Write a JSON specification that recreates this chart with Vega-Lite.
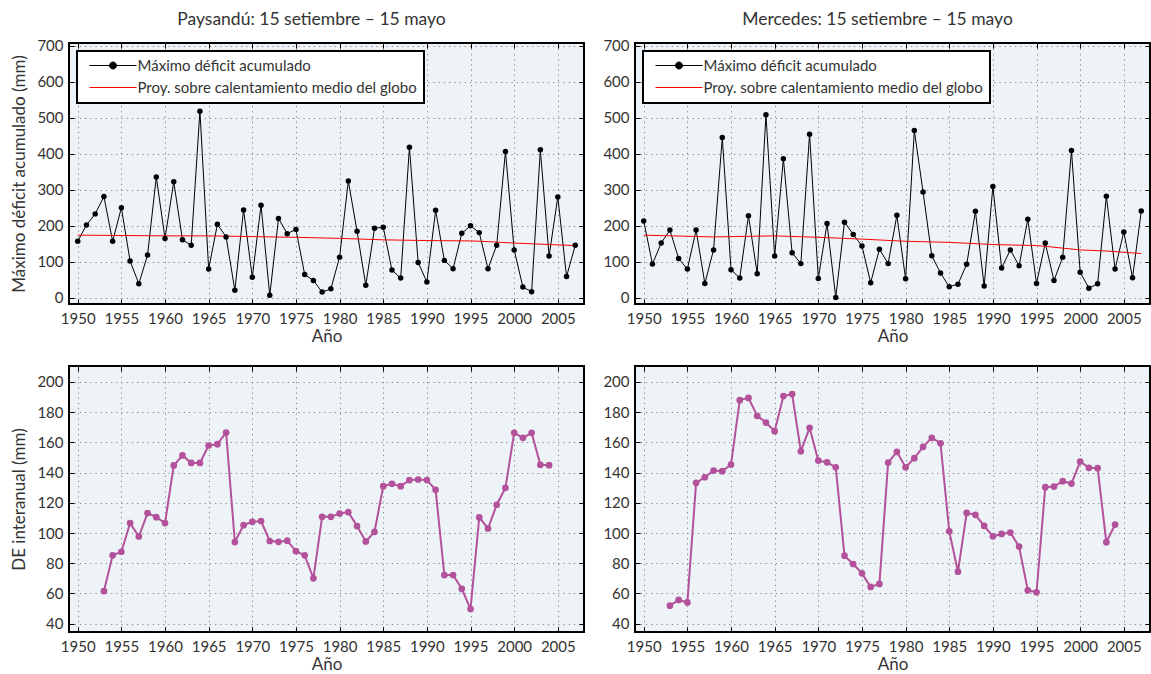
{
  "$schema": "https://vega.github.io/schema/vega-lite/v6.json",
  "padding": {"left": 9, "top": 10, "right": 0, "bottom": 0},
  "bounds": "flush",
  "columns": 2,
  "spacing": {"row": 62, "column": 51},
  "resolve": {"scale": {"color": "independent"}, "legend": {"color": "independent"}},
  "datasets": {
    "payDef": [
      {"a":1950,"v":157},{"a":1951,"v":202},{"a":1952,"v":233},{"a":1953,"v":281},{"a":1954,"v":157},{"a":1955,"v":250},{"a":1956,"v":102},{"a":1957,"v":39},{"a":1958,"v":119},{"a":1959,"v":335},
      {"a":1960,"v":165},{"a":1961,"v":322},{"a":1962,"v":161},{"a":1963,"v":146},{"a":1964,"v":518},{"a":1965,"v":80},{"a":1966,"v":204},{"a":1967,"v":169},{"a":1968,"v":21},{"a":1969,"v":244},
      {"a":1970,"v":57},{"a":1971,"v":257},{"a":1972,"v":7},{"a":1973,"v":220},{"a":1974,"v":178},{"a":1975,"v":190},{"a":1976,"v":65},{"a":1977,"v":48},{"a":1978,"v":16},{"a":1979,"v":25},
      {"a":1980,"v":113},{"a":1981,"v":324},{"a":1982,"v":185},{"a":1983,"v":35},{"a":1984,"v":193},{"a":1985,"v":196},{"a":1986,"v":77},{"a":1987,"v":55},{"a":1988,"v":418},{"a":1989,"v":98},
      {"a":1990,"v":44},{"a":1991,"v":243},{"a":1992,"v":104},{"a":1993,"v":81},{"a":1994,"v":179},{"a":1995,"v":200},{"a":1996,"v":181},{"a":1997,"v":81},{"a":1998,"v":146},{"a":1999,"v":406},
      {"a":2000,"v":133},{"a":2001,"v":30},{"a":2002,"v":17},{"a":2003,"v":411},{"a":2004,"v":116},{"a":2005,"v":280},{"a":2006,"v":59},{"a":2007,"v":146}
    ],
    "payTrend": [
      {"a":1950,"v":174},{"a":1960,"v":172},{"a":1965,"v":172},{"a":1970,"v":170},{"a":1975,"v":168},{"a":1980,"v":165},{"a":1985,"v":161},{"a":1990,"v":159},{"a":1995,"v":158},{"a":1997,"v":156},{"a":2000,"v":152},{"a":2007,"v":145}
    ],
    "merDef": [
      {"a":1950,"v":213},{"a":1951,"v":94},{"a":1952,"v":152},{"a":1953,"v":188},{"a":1954,"v":109},{"a":1955,"v":80},{"a":1956,"v":188},{"a":1957,"v":40},{"a":1958,"v":133},{"a":1959,"v":445},
      {"a":1960,"v":78},{"a":1961,"v":55},{"a":1962,"v":228},{"a":1963,"v":67},{"a":1964,"v":508},{"a":1965,"v":116},{"a":1966,"v":386},{"a":1967,"v":125},{"a":1968,"v":95},{"a":1969,"v":454},
      {"a":1970,"v":54},{"a":1971,"v":206},{"a":1972,"v":1},{"a":1973,"v":210},{"a":1974,"v":176},{"a":1975,"v":144},{"a":1976,"v":42},{"a":1977,"v":135},{"a":1978,"v":95},{"a":1979,"v":229},
      {"a":1980,"v":53},{"a":1981,"v":464},{"a":1982,"v":294},{"a":1983,"v":117},{"a":1984,"v":69},{"a":1985,"v":31},{"a":1986,"v":38},{"a":1987,"v":93},{"a":1988,"v":240},{"a":1989,"v":33},
      {"a":1990,"v":309},{"a":1991,"v":83},{"a":1992,"v":133},{"a":1993,"v":89},{"a":1994,"v":218},{"a":1995,"v":40},{"a":1996,"v":152},{"a":1997,"v":48},{"a":1998,"v":113},{"a":1999,"v":409},
      {"a":2000,"v":71},{"a":2001,"v":27},{"a":2002,"v":39},{"a":2003,"v":282},{"a":2004,"v":80},{"a":2005,"v":183},{"a":2006,"v":56},{"a":2007,"v":241}
    ],
    "merTrend": [
      {"a":1950,"v":174},{"a":1958,"v":169},{"a":1965,"v":172},{"a":1970,"v":168},{"a":1975,"v":163},{"a":1980,"v":157},{"a":1985,"v":154},{"a":1990,"v":148},{"a":1995,"v":145},{"a":1996,"v":143},{"a":2000,"v":133},{"a":2003,"v":130},{"a":2007,"v":123}
    ],
    "payDE": [
      {"a":1953,"v":61.6},{"a":1954,"v":85.2},{"a":1955,"v":87.6},{"a":1956,"v":106.6},{"a":1957,"v":97.7},{"a":1958,"v":113.2},{"a":1959,"v":110.5},
      {"a":1960,"v":106.6},{"a":1961,"v":144.7},{"a":1962,"v":151.3},{"a":1963,"v":146.4},{"a":1964,"v":146.4},{"a":1965,"v":157.9},{"a":1966,"v":158.8},{"a":1967,"v":166.5},{"a":1968,"v":94.0},{"a":1969,"v":105.2},
      {"a":1970,"v":107.4},{"a":1971,"v":107.9},{"a":1972,"v":94.7},{"a":1973,"v":94.2},{"a":1974,"v":94.9},{"a":1975,"v":88.0},{"a":1976,"v":85.2},{"a":1977,"v":70.0},{"a":1978,"v":110.7},{"a":1979,"v":110.7},
      {"a":1980,"v":112.9},{"a":1981,"v":113.8},{"a":1982,"v":104.6},{"a":1983,"v":94.4},{"a":1984,"v":100.8},{"a":1985,"v":131.0},{"a":1986,"v":132.6},{"a":1987,"v":131.0},{"a":1988,"v":135.0},{"a":1989,"v":135.4},
      {"a":1990,"v":135.0},{"a":1991,"v":128.6},{"a":1992,"v":72.2},{"a":1993,"v":72.2},{"a":1994,"v":63.1},{"a":1995,"v":49.7},{"a":1996,"v":110.3},{"a":1997,"v":103.0},{"a":1998,"v":118.7},{"a":1999,"v":129.9},
      {"a":2000,"v":166.3},{"a":2001,"v":163.0},{"a":2002,"v":166.3},{"a":2003,"v":145.1},{"a":2004,"v":144.9}
    ],
    "merDE": [
      {"a":1953,"v":51.9},{"a":1954,"v":55.7},{"a":1955,"v":54.1},{"a":1956,"v":133.2},{"a":1957,"v":136.9},{"a":1958,"v":141.3},{"a":1959,"v":140.9},
      {"a":1960,"v":145.3},{"a":1961,"v":187.9},{"a":1962,"v":189.4},{"a":1963,"v":177.5},{"a":1964,"v":173.1},{"a":1965,"v":167.4},{"a":1966,"v":190.6},{"a":1967,"v":191.9},{"a":1968,"v":154.1},{"a":1969,"v":169.6},
      {"a":1970,"v":147.9},{"a":1971,"v":146.8},{"a":1972,"v":143.5},{"a":1973,"v":85.0},{"a":1974,"v":79.5},{"a":1975,"v":73.3},{"a":1976,"v":64.3},{"a":1977,"v":66.3},{"a":1978,"v":146.6},{"a":1979,"v":153.7},
      {"a":1980,"v":143.5},{"a":1981,"v":149.5},{"a":1982,"v":157.0},{"a":1983,"v":163.0},{"a":1984,"v":159.4},{"a":1985,"v":101.1},{"a":1986,"v":74.4},{"a":1987,"v":113.3},{"a":1988,"v":112.0},{"a":1989,"v":104.7},
      {"a":1990,"v":97.8},{"a":1991,"v":99.4},{"a":1992,"v":100.3},{"a":1993,"v":91.0},{"a":1994,"v":62.1},{"a":1995,"v":60.8},{"a":1996,"v":130.3},{"a":1997,"v":130.7},{"a":1998,"v":134.3},{"a":1999,"v":132.7},
      {"a":2000,"v":147.3},{"a":2001,"v":143.1},{"a":2002,"v":142.9},{"a":2003,"v":93.9},{"a":2004,"v":105.6}
    ]
  },
  "concat": [
    {
      "width": 515, "height": 261,
      "title": {"text": "Paysandú: 15 setiembre – 15 mayo"},
      "layer": [
        {"data": {"name": "payDef"}, "mark": {"type": "line", "strokeWidth": 1},
         "encoding": {
           "x": {"field": "a", "type": "quantitative", "scale": {"domain": [1949, 2008], "nice": false, "zero": false}, "axis": {"values": [1950,1955,1960,1965,1970,1975,1980,1985,1990,1995,2000,2005], "format": "d", "title": "Año", "grid": true}},
           "y": {"field": "v", "type": "quantitative", "scale": {"domain": [-17, 707], "nice": false}, "axis": {"values": [0,100,200,300,400,500,600,700], "title": "Máximo déficit acumulado (mm)", "grid": true}},
           "color": {"datum": "Máximo déficit acumulado", "scale": {"domain": ["Máximo déficit acumulado", "Proy. sobre calentamiento medio del globo"], "range": ["black", "#ff0000"]},
             "legend": {"title": null, "orient": "top-left", "offset": 8,
               "encode": {"legend": {"update": {"strokeWidth": {"value": 2}}},
                 "symbols": {"update": {"shape": {"signal": "datum.value === 'Máximo déficit acumulado' ? 'M-4.7,0H4.7M-0.7,0A0.7,0.7,0,1,1,0.7,0A0.7,0.7,0,1,1,-0.7,0Z' : 'M-4.7,0H4.7'"}, "fill": {"signal": "datum.value === 'Máximo déficit acumulado' ? 'black' : 'transparent'"}}}}}}
         }},
        {"data": {"name": "payTrend"}, "mark": {"type": "line", "strokeWidth": 1},
         "encoding": {
           "x": {"field": "a", "type": "quantitative", "axis": {"orient": "top", "values": [1950,1955,1960,1965,1970,1975,1980,1985,1990,1995,2000,2005], "labels": false, "title": null, "grid": false}},
           "y": {"field": "v", "type": "quantitative", "axis": {"orient": "right", "values": [0,100,200,300,400,500,600,700], "labels": false, "title": null, "grid": false}},
           "color": {"datum": "Proy. sobre calentamiento medio del globo"}
         }},
        {"data": {"name": "payDef"}, "mark": {"type": "point", "filled": true, "size": 30, "color": "black", "opacity": 1},
         "encoding": {
           "x": {"field": "a", "type": "quantitative", "axis": null},
           "y": {"field": "v", "type": "quantitative", "axis": null}
         }}
      ],
      "resolve": {"axis": {"x": "independent", "y": "independent"}}
    },
    {
      "width": 515, "height": 261,
      "title": {"text": "Mercedes: 15 setiembre – 15 mayo"},
      "layer": [
        {"data": {"name": "merDef"}, "mark": {"type": "line", "strokeWidth": 1},
         "encoding": {
           "x": {"field": "a", "type": "quantitative", "scale": {"domain": [1949, 2008], "nice": false, "zero": false}, "axis": {"values": [1950,1955,1960,1965,1970,1975,1980,1985,1990,1995,2000,2005], "format": "d", "title": "Año", "grid": true}},
           "y": {"field": "v", "type": "quantitative", "scale": {"domain": [-17, 707], "nice": false}, "axis": {"values": [0,100,200,300,400,500,600,700], "title": null, "grid": true}},
           "color": {"datum": "Máximo déficit acumulado", "scale": {"domain": ["Máximo déficit acumulado", "Proy. sobre calentamiento medio del globo"], "range": ["black", "#ff0000"]},
             "legend": {"title": null, "orient": "top-left", "offset": 8,
               "encode": {"legend": {"update": {"strokeWidth": {"value": 2}}},
                 "symbols": {"update": {"shape": {"signal": "datum.value === 'Máximo déficit acumulado' ? 'M-4.7,0H4.7M-0.7,0A0.7,0.7,0,1,1,0.7,0A0.7,0.7,0,1,1,-0.7,0Z' : 'M-4.7,0H4.7'"}, "fill": {"signal": "datum.value === 'Máximo déficit acumulado' ? 'black' : 'transparent'"}}}}}}
         }},
        {"data": {"name": "merTrend"}, "mark": {"type": "line", "strokeWidth": 1},
         "encoding": {
           "x": {"field": "a", "type": "quantitative", "axis": {"orient": "top", "values": [1950,1955,1960,1965,1970,1975,1980,1985,1990,1995,2000,2005], "labels": false, "title": null, "grid": false}},
           "y": {"field": "v", "type": "quantitative", "axis": {"orient": "right", "values": [0,100,200,300,400,500,600,700], "labels": false, "title": null, "grid": false}},
           "color": {"datum": "Proy. sobre calentamiento medio del globo"}
         }},
        {"data": {"name": "merDef"}, "mark": {"type": "point", "filled": true, "size": 30, "color": "black", "opacity": 1},
         "encoding": {
           "x": {"field": "a", "type": "quantitative", "axis": null},
           "y": {"field": "v", "type": "quantitative", "axis": null}
         }}
      ],
      "resolve": {"axis": {"x": "independent", "y": "independent"}}
    },
    {
      "width": 515, "height": 266,
      "layer": [
        {"data": {"name": "payDE"}, "mark": {"type": "line", "strokeWidth": 2, "color": "#b3519b"},
         "encoding": {
           "x": {"field": "a", "type": "quantitative", "scale": {"domain": [1949, 2008], "nice": false, "zero": false}, "axis": {"values": [1950,1955,1960,1965,1970,1975,1980,1985,1990,1995,2000,2005], "format": "d", "title": "Año", "grid": true}},
           "y": {"field": "v", "type": "quantitative", "scale": {"domain": [34.5, 210.5], "nice": false, "zero": false}, "axis": {"values": [40,60,80,100,120,140,160,180,200], "title": "DE interanual (mm)", "grid": true}}
         }},
        {"data": {"name": "payDE"}, "mark": {"type": "point", "filled": true, "size": 45, "color": "#b3519b", "opacity": 1},
         "encoding": {
           "x": {"field": "a", "type": "quantitative", "axis": {"orient": "top", "values": [1950,1955,1960,1965,1970,1975,1980,1985,1990,1995,2000,2005], "labels": false, "title": null, "grid": false}},
           "y": {"field": "v", "type": "quantitative", "axis": {"orient": "right", "values": [40,60,80,100,120,140,160,180,200], "labels": false, "title": null, "grid": false}}
         }}
      ],
      "resolve": {"axis": {"x": "independent", "y": "independent"}}
    },
    {
      "width": 515, "height": 266,
      "layer": [
        {"data": {"name": "merDE"}, "mark": {"type": "line", "strokeWidth": 2, "color": "#b3519b"},
         "encoding": {
           "x": {"field": "a", "type": "quantitative", "scale": {"domain": [1949, 2008], "nice": false, "zero": false}, "axis": {"values": [1950,1955,1960,1965,1970,1975,1980,1985,1990,1995,2000,2005], "format": "d", "title": "Año", "grid": true}},
           "y": {"field": "v", "type": "quantitative", "scale": {"domain": [34.5, 210.5], "nice": false, "zero": false}, "axis": {"values": [40,60,80,100,120,140,160,180,200], "title": null, "grid": true}}
         }},
        {"data": {"name": "merDE"}, "mark": {"type": "point", "filled": true, "size": 45, "color": "#b3519b", "opacity": 1},
         "encoding": {
           "x": {"field": "a", "type": "quantitative", "axis": {"orient": "top", "values": [1950,1955,1960,1965,1970,1975,1980,1985,1990,1995,2000,2005], "labels": false, "title": null, "grid": false}},
           "y": {"field": "v", "type": "quantitative", "axis": {"orient": "right", "values": [40,60,80,100,120,140,160,180,200], "labels": false, "title": null, "grid": false}}
         }}
      ],
      "resolve": {"axis": {"x": "independent", "y": "independent"}}
    }
  ],
  "config": {
    "font": "Lato",
    "background": "white",
    "view": {"fill": "#eef3f8", "stroke": "black", "strokeWidth": 2},
    "axis": {
      "labelFont": "Lato", "labelFontSize": 15, "labelColor": "#333",
      "titleFont": "Lato", "titleFontSize": 17, "titleFontWeight": "normal", "titleColor": "#333",
      "domain": false, "tickColor": "black", "tickSize": -5, "tickWidth": 1,
      "gridColor": "#777", "gridDash": [1.2, 4], "gridWidth": 1, "gridOpacity": 0.9
    },
    "axisX": {"labelPadding": 12, "titlePadding": 2},
    "axisY": {"labelPadding": 11, "titlePadding": 8},
    "title": {"font": "Lato", "fontSize": 17.5, "fontWeight": "normal", "color": "#333", "dx": -15, "offset": 10},
    "legend": {
      "labelFont": "Lato", "labelFontSize": 15, "labelColor": "#333", "labelLimit": 0,
      "fillColor": "white", "strokeColor": "black", "padding": 7, "cornerRadius": 0,
      "symbolSize": 100, "symbolStrokeWidth": 1, "symbolOffset": 21.5, "rowPadding": 6, "labelOffset": 17
    }
  }
}
